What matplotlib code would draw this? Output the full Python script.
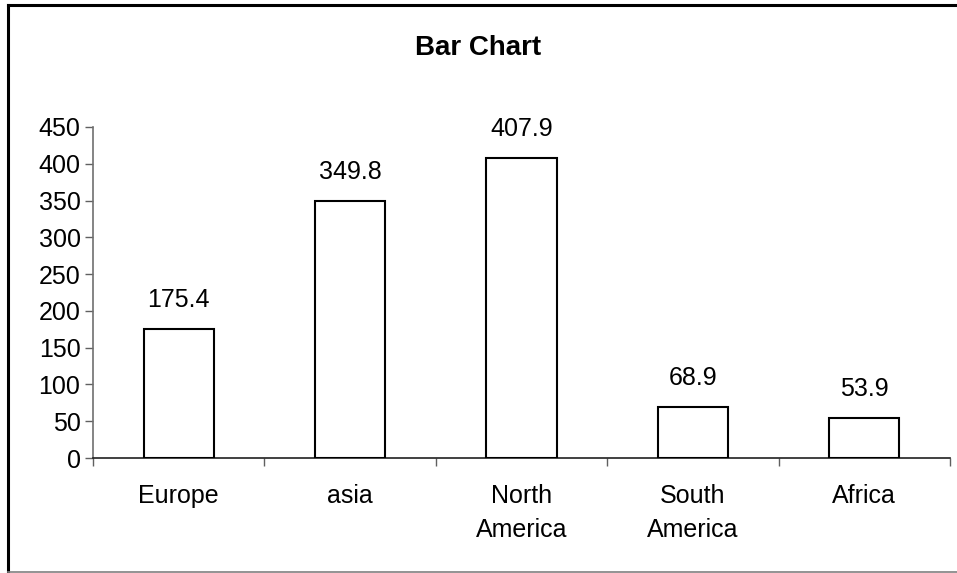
import matplotlib
matplotlib.use("Agg")
import matplotlib.pyplot as plt
from matplotlib.lines import Line2D

categories = ["Europe", "asia", "North\nAmerica", "South\nAmerica", "Africa"]
values = [175.4, 349.8, 407.9, 68.9, 53.9]
yticks = [0, 50, 100, 150, 200, 250, 300, 350, 400, 450]

plt.rcParams["font.family"] = ["Liberation Sans", "DejaVu Sans"]

W, H = 957, 573
fig = plt.figure(figsize=(W / 100, H / 100), dpi=100)
fig.patch.set_facecolor("white")

ax = fig.add_axes([93 / W, 1 - 458 / H, (950 - 93) / W, (458 - 127) / H])
x = list(range(len(categories)))
ax.bar(x, values, width=0.41, color="white", edgecolor="black", linewidth=1.5, zorder=3)

for xi, v in zip(x, values):
    ax.annotate(f"{v:.1f}", (xi, v), xytext=(0, 21), textcoords="offset points",
                ha="center", va="center", fontsize=18)

ax.set_xlim(-0.5, len(categories) - 0.5)
ax.set_ylim(0, 450)
ax.set_yticks(yticks)
ax.set_yticklabels([str(t) for t in yticks], fontsize=18)
ax.set_xticks(x)
ax.set_xticklabels(categories, fontsize=18, linespacing=1.5)
ax.set_xticks([i - 0.5 for i in range(len(categories) + 1)], minor=True)
ax.tick_params(axis="x", which="major", length=0, pad=19)
ax.tick_params(axis="x", which="minor", length=6, width=1, color="#606060", direction="out")
ax.tick_params(axis="y", length=6, width=1, color="#606060", direction="out", pad=3)

for s in ["top", "right"]:
    ax.spines[s].set_visible(False)
ax.spines["left"].set_color("#707070")
ax.spines["left"].set_linewidth(1.2)
ax.spines["bottom"].set_color("#202020")
ax.spines["bottom"].set_linewidth(1.2)

fig.text(478 / W, 1 - 48 / H, "Bar Chart", ha="center", va="center",
         fontsize=20, fontweight="bold")

# outer frame
fig.add_artist(Line2D([8 / W, 8 / W], [1 - 572 / H, 1 - 5 / H], color="black", linewidth=2.2))
fig.add_artist(Line2D([8 / W, 1.0], [1 - 5 / H, 1 - 5 / H], color="black", linewidth=2.2))
fig.add_artist(Line2D([8 / W, 1.0], [1 - 572 / H, 1 - 572 / H], color="#808080", linewidth=1.2))

fig.savefig("out.png", dpi=100, facecolor="white")
